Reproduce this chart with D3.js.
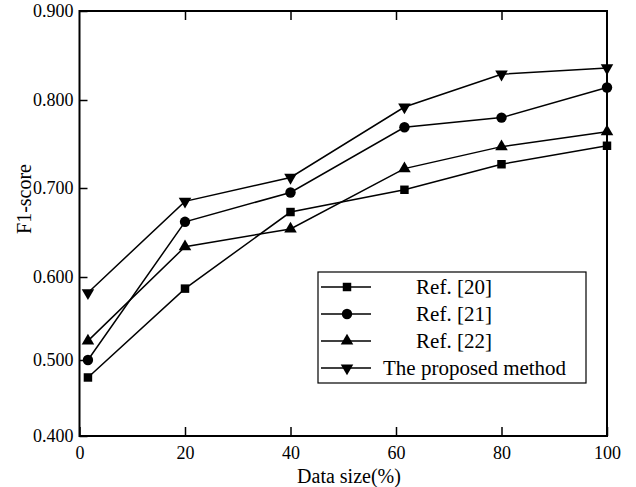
<!DOCTYPE html>
<html>
<head>
<meta charset="utf-8">
<script src="https://cdn.jsdelivr.net/npm/d3@7"></script>
<style>
  body { margin: 0; background: #fff; }
  text { font-family: "Liberation Serif", "Times New Roman", serif; fill: #000; }
</style>
</head>
<body>
<div id="chart"></div>
<script>
// data
var dataSize = [1.6, 20, 40, 61.6, 80, 100];
var ref20 = [0.477, 0.586, 0.673, 0.698, 0.727, 0.748];
var ref21 = [0.500, 0.662, 0.695, 0.769, 0.780, 0.814];
var ref22 = [0.523, 0.634, 0.654, 0.722, 0.747, 0.764];
var proposed = [0.581, 0.685, 0.712, 0.792, 0.829, 0.836];
var seriesNames = ["Ref. [20]", "Ref. [21]", "Ref. [22]", "The proposed method"];
var xTicks = [0, 20, 40, 60, 80, 100];
var yTicks = [0.4, 0.5, 0.6, 0.7, 0.8, 0.9];

var width = 636, height = 487;
var plotLeft = 79.5, plotRight = 607, plotTop = 11, plotBottom = 436;

var svg = d3.select("#chart").append("svg")
  .attr("width", width)
  .attr("height", height);

var x = d3.scaleLinear().domain([0, 100]).range([plotLeft, plotRight]);
// the source figure's y spacing is slightly uneven, so use one stop per tick
var y = d3.scaleLinear().domain(yTicks).range([436, 360, 277, 188, 100, 11]);

var series = [ref20, ref21, ref22, proposed];
var shapes = [
  { type: d3.symbolSquare, size: 72, rot: 0 },
  { type: d3.symbolCircle, size: 85, rot: 0 },
  { type: d3.symbolTriangle, size: 68, rot: 0 },
  { type: d3.symbolTriangle, size: 68, rot: 180 }
];

//bottom axis, ticks inward
svg.append("g")
  .attr("transform", "translate(0," + plotBottom + ")")
  .call(d3.axisBottom(x).tickValues(xTicks).tickSizeInner(-9).tickSizeOuter(0).tickPadding(10))
  .call(function(g) {
    g.select(".domain").remove();
    g.selectAll("line").attr("stroke-width", 1.5);
    g.selectAll("text").style("font-size", "18px");
  });

//top ticks
svg.append("g")
  .attr("transform", "translate(0," + plotTop + ")")
  .call(d3.axisTop(x).tickValues(xTicks.slice(1, -1)).tickSizeInner(-9).tickSizeOuter(0).tickFormat(""))
  .call(function(g) {
    g.select(".domain").remove();
    g.selectAll("line").attr("stroke-width", 1.5);
  });

//left axis
svg.append("g")
  .attr("transform", "translate(" + plotLeft + ",0)")
  .call(d3.axisLeft(y).tickValues(yTicks).tickFormat(d3.format(".3f")).tickSizeInner(-8).tickSizeOuter(0).tickPadding(6))
  .call(function(g) {
    g.select(".domain").remove();
    g.selectAll("line").attr("stroke-width", 1.5);
    g.selectAll("text").style("font-size", "18px");
  });

//frame
svg.append("rect")
  .attr("x", plotLeft)
  .attr("y", plotTop)
  .attr("width", plotRight - plotLeft)
  .attr("height", plotBottom - plotTop)
  .attr("fill", "none")
  .attr("stroke", "#000")
  .attr("stroke-width", 2);

//lines and markers
var line = d3.line()
  .x(function(d, i) { return x(dataSize[i]); })
  .y(function(d) { return y(d); });

series.forEach(function(vals, s) {
  svg.append("path")
    .datum(vals)
    .attr("d", line)
    .attr("fill", "none")
    .attr("stroke", "#000")
    .attr("stroke-width", 1.5);
  svg.selectAll(".m" + s)
    .data(vals)
    .enter().append("path")
    .attr("d", d3.symbol().type(shapes[s].type).size(shapes[s].size))
    .attr("transform", function(d, i) {
      return "translate(" + x(dataSize[i]) + "," + y(d) + ") rotate(" + shapes[s].rot + ")";
    })
    .attr("fill", "#000");
});

//axis titles
svg.append("text")
  .text("Data size(%)")
  .attr("x", 349)
  .attr("y", 483)
  .style("text-anchor", "middle")
  .style("font-size", "20px");

svg.append("text")
  .text("F1-score")
  .attr("transform", "translate(31,199) rotate(-90)")
  .style("text-anchor", "middle")
  .style("font-size", "20px");

//legend
var legend = svg.append("g");
legend.append("rect")
  .attr("x", 318)
  .attr("y", 272)
  .attr("width", 268)
  .attr("height", 111)
  .attr("fill", "#fff")
  .attr("stroke", "#000")
  .attr("stroke-width", 1.2);

seriesNames.forEach(function(name, s) {
  var ly = 287 + s * 27;
  legend.append("line")
    .attr("x1", 321).attr("x2", 371)
    .attr("y1", ly).attr("y2", ly)
    .attr("stroke", "#000")
    .attr("stroke-width", 1.5);
  legend.append("path")
    .attr("d", d3.symbol().type(shapes[s].type).size(shapes[s].size))
    .attr("transform", "translate(347," + ly + ") rotate(" + shapes[s].rot + ")")
    .attr("fill", "#000");
  var t = legend.append("text")
    .text(name)
    .attr("x", 454)
    .attr("y", ly + 7)
    .style("text-anchor", "middle")
    .style("font-size", "21px");
  //long labels start right after the sample line
  if (t.node().getBBox().x < 383) {
    t.attr("x", 383).style("text-anchor", "start");
  }
});
</script>
</body>
</html>
